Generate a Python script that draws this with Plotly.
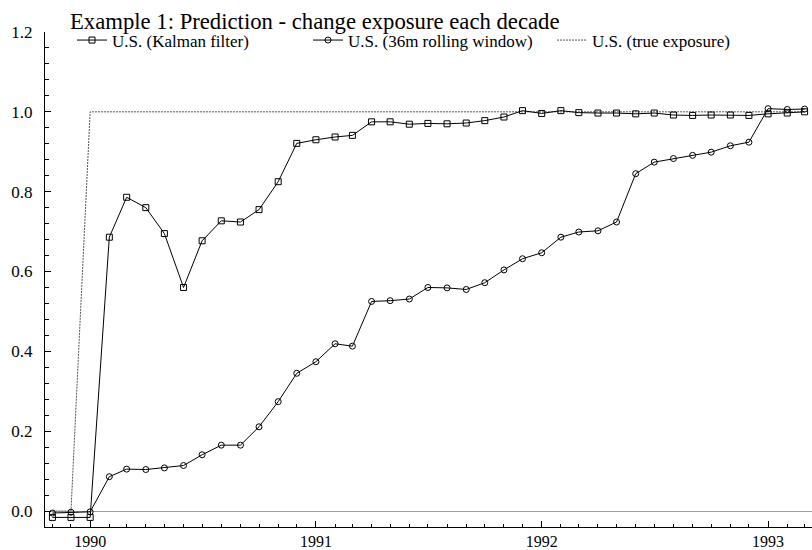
import pandas as pd
import plotly.graph_objects as go

# Monthly observation dates
months = pd.date_range("1989-11-01", periods=41, freq="MS")

# Estimated exposure, Kalman filter
kalman = [-0.016, -0.016, -0.016,
          0.686, 0.786, 0.760, 0.695, 0.560, 0.677, 0.727, 0.724, 0.755, 0.825, 0.921,
          0.930, 0.937, 0.941, 0.975, 0.975, 0.969, 0.971, 0.970, 0.972, 0.978, 0.987, 1.003,
          0.996, 1.003, 0.998, 0.997, 0.997, 0.995, 0.997, 0.992, 0.991, 0.992, 0.992, 0.991,
          0.995, 0.997, 1.000]

# Estimated exposure, 36-month rolling window regression
rolling = [-0.005, -0.003, -0.002,
           0.086, 0.105, 0.104, 0.108, 0.114, 0.141, 0.165, 0.165, 0.211, 0.274, 0.345,
           0.374, 0.419, 0.413, 0.525, 0.527, 0.531, 0.560, 0.559, 0.555, 0.572, 0.604, 0.632,
           0.647, 0.686, 0.699, 0.702, 0.724, 0.845, 0.874, 0.883, 0.891, 0.899, 0.915, 0.924,
           1.008, 1.006, 1.007]

# True exposure: switches from 0 to 1 at the start of the decade
true_exposure = [0, 0,
                 1, 1, 1, 1, 1, 1, 1, 1, 1, 1, 1, 1,
                 1, 1, 1, 1, 1, 1, 1, 1, 1, 1, 1, 1,
                 1, 1, 1, 1, 1, 1, 1, 1, 1, 1, 1, 1,
                 1, 1, 1]

series_names = ["U.S. (Kalman filter)", "U.S. (36m rolling window)", "U.S. (true exposure)"]
y_ticks = [0.0, 0.2, 0.4, 0.6, 0.8, 1.0, 1.2]

FONT = "Liberation Serif"

# plot area in pixels: x 45..812, y 32..527
PL, PR, PT, PB = 45, 812, 32, 527


def px_x(px):
    return (px - PL) / (PR - PL)


def px_y(py):
    return (PB - py) / (PB - PT)


fig = go.Figure()
fig.add_trace(go.Scatter(
    x=months, y=true_exposure, name=series_names[2], mode="lines",
    line=dict(color="#555555", width=1, dash="2px,1px"), legend="legend3"))
fig.add_trace(go.Scatter(
    x=months, y=kalman, name=series_names[0], mode="lines+markers",
    line=dict(color="black", width=1),
    marker=dict(symbol="square-open", size=6, color="black", line=dict(width=1)),
    legend="legend"))
fig.add_trace(go.Scatter(
    x=months, y=rolling, name=series_names[1], mode="lines+markers",
    line=dict(color="black", width=1),
    marker=dict(symbol="circle-open", size=6, color="black", line=dict(width=1)),
    legend="legend2"))

legend_common = dict(orientation="h", xref="paper", yref="paper",
                     yanchor="middle", bgcolor="rgba(0,0,0,0)",
                     font=dict(family=FONT, size=17, color="black"))

fig.update_layout(
    width=812, height=550,
    margin=dict(l=PL, r=812 - PR, t=PT, b=550 - PB, autoexpand=False),
    paper_bgcolor="white", plot_bgcolor="white",
    font=dict(family=FONT, size=17, color="black"),
    title=dict(text="Example 1: Prediction - change exposure each decade",
               x=70 / 812, xanchor="left", xref="container",
               y=1 - 21 / 550, yanchor="middle", yref="container",
               font=dict(family=FONT, size=22.7, color="black")),
    legend=dict(x=px_x(72), y=px_y(40.5), **legend_common),
    legend2=dict(x=px_x(308), y=px_y(40.5), **legend_common),
    legend3=dict(x=px_x(552), y=px_y(40.5), **legend_common),
    showlegend=True,
)

fig.update_xaxes(
    type="date", range=["1989-10-20", "1993-03-13"],
    dtick="M12", tick0="1990-01-01", tickformat="%Y",
    ticks="inside", ticklen=6, tickwidth=1, tickcolor="black",
    minor=dict(dtick="M1", ticks="inside", ticklen=3, tickwidth=1, tickcolor="black"),
    showline=True, linecolor="black", linewidth=1,
    showgrid=False, zeroline=False,
    ticklabelstandoff=0,
    tickfont=dict(family=FONT, size=16, color="black"),
)
fig.update_yaxes(
    range=[-0.04, 1.2], tickvals=y_ticks, tickformat=".1f",
    ticks="inside", ticklen=6, tickwidth=1, tickcolor="black",
    minor=dict(dtick=0.04, tick0=0, ticks="inside", ticklen=4, tickwidth=1, tickcolor="black"),
    showline=True, linecolor="black", linewidth=1,
    showgrid=False, zeroline=True, zerolinecolor="#a0a0a0", zerolinewidth=1,
    ticklabelstandoff=8,
    tickfont=dict(family=FONT, size=17, color="black"),
)

fig.write_html("out.html")
